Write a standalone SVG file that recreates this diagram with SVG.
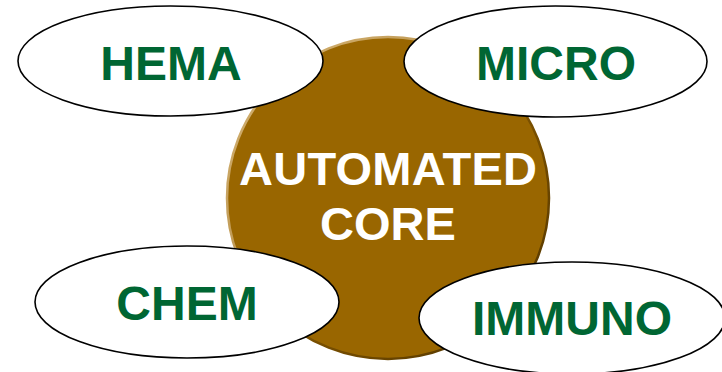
<svg xmlns="http://www.w3.org/2000/svg" width="722" height="372" viewBox="0 0 722 372">
<defs>
<linearGradient id="rim" x1="0" y1="0" x2="1" y2="1">
<stop offset="0" stop-color="#d9b87a"/>
<stop offset="0.45" stop-color="#b8914a"/>
<stop offset="0.55" stop-color="#805400"/>
<stop offset="1" stop-color="#4a3000"/>
</linearGradient>
<style>
.node ellipse{fill:#ffffff;stroke:#000000;stroke-width:1.6}
.lbl{font-family:"Liberation Sans",Arial,sans-serif;font-weight:bold;font-size:48px;fill:#006633;text-anchor:middle}
.core{font-family:"Liberation Sans",Arial,sans-serif;font-weight:bold;font-size:47px;fill:#ffffff;text-anchor:middle}
</style>
</defs>
<rect width="722" height="372" fill="#ffffff"/>
<g id="core">
<circle cx="388" cy="198" r="161" fill="#996600" stroke="url(#rim)" stroke-width="2.5"/>
<text class="core" x="388" y="185" textLength="298" lengthAdjust="spacing">AUTOMATED</text>
<text class="core" x="388" y="240">CORE</text>
</g>
<g id="connectors"></g>
<g id="hema" class="node">
<ellipse cx="170.5" cy="61" rx="152.5" ry="55"/>
<text class="lbl" x="171" y="80">HEMA</text>
</g>
<g id="micro" class="node">
<ellipse cx="555.5" cy="61.5" rx="151.5" ry="55.5"/>
<text class="lbl" x="556" y="80">MICRO</text>
</g>
<g id="chem" class="node">
<ellipse cx="187" cy="302" rx="152" ry="56"/>
<text class="lbl" x="187" y="320">CHEM</text>
</g>
<g id="immuno" class="node">
<ellipse cx="572" cy="318" rx="153" ry="56"/>
<text class="lbl" x="572" y="335">IMMUNO</text>
</g>
</svg>
